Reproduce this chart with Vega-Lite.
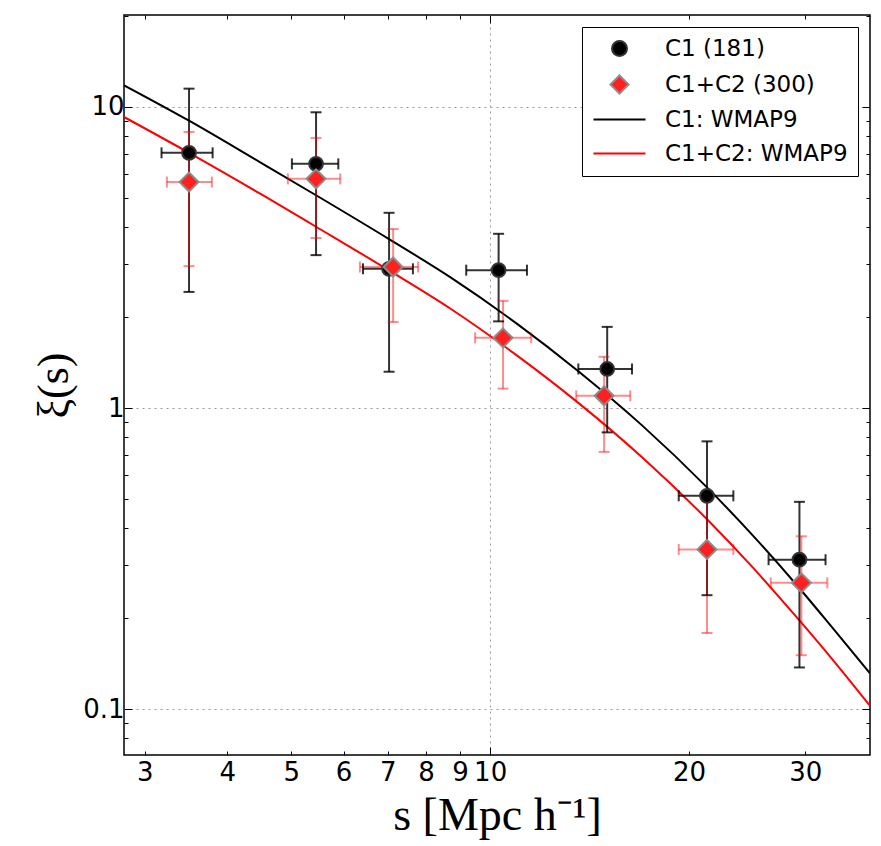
{
  "$schema": "https://vega.github.io/schema/vega-lite/v6.json",
  "width": 746,
  "height": 740,
  "autosize": "none",
  "padding": {"left": 124, "top": 15, "right": 11, "bottom": 91},
  "background": "white",
  "config": {
    "view": {"stroke": "#000", "strokeWidth": 1.5},
    "axis": {
      "domain": false,
      "grid": false,
      "gridColor": "#999",
      "gridDash": [2, 4],
      "gridWidth": 1,
      "tickColor": "#000",
      "tickWidth": 1,
      "labelFont": "DejaVu Sans",
      "labelFontSize": 26,
      "labelColor": "#000",
      "titleColor": "#000"
    }
  },
  "datasets": {
    "pts": [
      {"series": "C1 (181)", "s": 3.50, "xi": 7.04, "slo": 3.18, "shi": 3.80, "xlo": 2.43, "xhi": 11.5},
      {"series": "C1 (181)", "s": 5.45, "xi": 6.47, "slo": 5.01, "shi": 5.89, "xlo": 3.22, "xhi": 9.6},
      {"series": "C1 (181)", "s": 7.03, "xi": 2.90, "slo": 6.42, "shi": 7.64, "xlo": 1.32, "xhi": 4.45},
      {"series": "C1 (181)", "s": 10.3, "xi": 2.87, "slo": 9.20, "shi": 11.37, "xlo": 1.94, "xhi": 3.79},
      {"series": "C1 (181)", "s": 15.04, "xi": 1.348, "slo": 13.6, "shi": 16.4, "xlo": 0.83, "xhi": 1.86},
      {"series": "C1 (181)", "s": 21.3, "xi": 0.511, "slo": 19.3, "shi": 23.35, "xlo": 0.239, "xhi": 0.775},
      {"series": "C1 (181)", "s": 29.4, "xi": 0.3135, "slo": 26.4, "shi": 32.2, "xlo": 0.1375, "xhi": 0.488},
      {"series": "C1+C2 (300)", "s": 3.50, "xi": 5.63, "slo": 3.24, "shi": 3.79, "xlo": 2.96, "xhi": 8.26},
      {"series": "C1+C2 (300)", "s": 5.45, "xi": 5.77, "slo": 4.94, "shi": 5.93, "xlo": 3.67, "xhi": 7.89},
      {"series": "C1+C2 (300)", "s": 7.13, "xi": 2.94, "slo": 6.35, "shi": 7.78, "xlo": 1.93, "xhi": 3.93},
      {"series": "C1+C2 (300)", "s": 10.46, "xi": 1.71, "slo": 9.49, "shi": 11.54, "xlo": 1.16, "xhi": 2.27},
      {"series": "C1+C2 (300)", "s": 14.88, "xi": 1.098, "slo": 13.5, "shi": 16.3, "xlo": 0.715, "xhi": 1.48},
      {"series": "C1+C2 (300)", "s": 21.3, "xi": 0.339, "slo": 19.3, "shi": 23.35, "xlo": 0.179, "xhi": 0.50},
      {"series": "C1+C2 (300)", "s": 29.6, "xi": 0.2626, "slo": 26.6, "shi": 32.4, "xlo": 0.151, "xhi": 0.375}
    ],
    "curves": [
      {"series": "C1: WMAP9", "s": 2.79, "xi": 11.8},
      {"series": "C1: WMAP9", "s": 3.5, "xi": 9.0},
      {"series": "C1: WMAP9", "s": 4.5, "xi": 6.52},
      {"series": "C1: WMAP9", "s": 5.45, "xi": 5.09},
      {"series": "C1: WMAP9", "s": 7.0, "xi": 3.66},
      {"series": "C1: WMAP9", "s": 8.7, "xi": 2.72},
      {"series": "C1: WMAP9", "s": 11.0, "xi": 1.90},
      {"series": "C1: WMAP9", "s": 13.6, "xi": 1.325},
      {"series": "C1: WMAP9", "s": 17.0, "xi": 0.874},
      {"series": "C1: WMAP9", "s": 21.3, "xi": 0.545},
      {"series": "C1: WMAP9", "s": 25.0, "xi": 0.377},
      {"series": "C1: WMAP9", "s": 29.4, "xi": 0.252},
      {"series": "C1: WMAP9", "s": 33.0, "xi": 0.186},
      {"series": "C1: WMAP9", "s": 37.6, "xi": 0.1315},
      {"series": "C1+C2: WMAP9", "s": 2.79, "xi": 9.26},
      {"series": "C1+C2: WMAP9", "s": 3.5, "xi": 7.04},
      {"series": "C1+C2: WMAP9", "s": 4.5, "xi": 5.13},
      {"series": "C1+C2: WMAP9", "s": 5.45, "xi": 4.0},
      {"series": "C1+C2: WMAP9", "s": 7.0, "xi": 2.88},
      {"series": "C1+C2: WMAP9", "s": 8.7, "xi": 2.14},
      {"series": "C1+C2: WMAP9", "s": 11.0, "xi": 1.49},
      {"series": "C1+C2: WMAP9", "s": 13.6, "xi": 1.04},
      {"series": "C1+C2: WMAP9", "s": 17.0, "xi": 0.685},
      {"series": "C1+C2: WMAP9", "s": 21.3, "xi": 0.427},
      {"series": "C1+C2: WMAP9", "s": 25.0, "xi": 0.295},
      {"series": "C1+C2: WMAP9", "s": 29.4, "xi": 0.197},
      {"series": "C1+C2: WMAP9", "s": 33.0, "xi": 0.146},
      {"series": "C1+C2: WMAP9", "s": 37.6, "xi": 0.1025}
    ]
  },
  "resolve": {"axis": {"x": "independent", "y": "independent"}},
  "layer": [
    {
      "data": {"name": "curves"},
      "mark": {"type": "line", "strokeWidth": 2, "clip": true, "interpolate": "monotone"},
      "encoding": {
        "x": {"field": "s", "type": "quantitative", "scale": {"type": "log", "domain": [2.79, 37.6], "nice": false}, "axis": null},
        "y": {"field": "xi", "type": "quantitative", "scale": {"type": "log", "domain": [0.0704, 20.2], "nice": false},
              "axis": {"orient": "right", "values": [0.1, 1, 10], "tickSize": -8, "labels": false, "title": null}},
        "color": {"field": "series", "type": "nominal",
                  "scale": {"domain": ["C1: WMAP9", "C1+C2: WMAP9", "C1 (181)", "C1+C2 (300)"], "range": ["#000000", "#ff0000", "#000000", "#ff0000"]},
                  "legend": null},
        "detail": {"field": "series"}
      }
    },
    {
      "data": {"name": "pts"},
      "mark": {"type": "rule", "strokeWidth": 2},
      "encoding": {
        "x": {"field": "s", "type": "quantitative",
              "axis": {"orient": "bottom", "values": [3, 4, 5, 6, 7, 8, 9, 10, 20, 30], "format": "~g", "tickSize": -4, "labelPadding": 8,
                       "title": "s [Mpc h⁻¹]", "titleFont": "Liberation Serif", "titleFontSize": 46, "titleFontWeight": "normal", "titlePadding": 8}},
        "y": {"field": "xlo", "type": "quantitative", "axis": null},
        "y2": {"field": "xhi"},
        "color": {"field": "series", "type": "nominal", "legend": null},
        "opacity": {"field": "series", "type": "nominal", "scale": {"domain": ["C1 (181)", "C1+C2 (300)"], "range": [0.8, 0.45]}, "legend": null}
      }
    },
    {
      "data": {"name": "pts"},
      "mark": {"type": "rule", "strokeWidth": 2},
      "encoding": {
        "x": {"field": "slo", "type": "quantitative",
              "axis": {"orient": "bottom", "values": [10], "tickSize": -8, "labels": false, "title": null, "grid": true}},
        "x2": {"field": "shi"},
        "y": {"field": "xi", "type": "quantitative", "axis": null},
        "color": {"field": "series", "type": "nominal", "legend": null},
        "opacity": {"field": "series", "type": "nominal", "legend": null}
      }
    },
    {
      "data": {"name": "pts"},
      "mark": {"type": "tick", "orient": "horizontal", "size": 11, "thickness": 2},
      "encoding": {
        "x": {"field": "s", "type": "quantitative",
              "axis": {"orient": "top", "values": [3, 4, 5, 6, 7, 8, 9, 20, 30], "tickSize": -4, "labels": false, "title": null}},
        "y": {"field": "xhi", "type": "quantitative", "axis": null},
        "color": {"field": "series", "type": "nominal", "legend": null},
        "opacity": {"field": "series", "type": "nominal", "legend": null}
      }
    },
    {
      "data": {"name": "pts"},
      "mark": {"type": "tick", "orient": "horizontal", "size": 11, "thickness": 2},
      "encoding": {
        "x": {"field": "s", "type": "quantitative",
              "axis": {"orient": "top", "values": [10], "tickSize": -8, "labels": false, "title": null}},
        "y": {"field": "xlo", "type": "quantitative", "axis": null},
        "color": {"field": "series", "type": "nominal", "legend": null},
        "opacity": {"field": "series", "type": "nominal", "legend": null}
      }
    },
    {
      "data": {"name": "pts"},
      "mark": {"type": "tick", "orient": "vertical", "size": 11, "thickness": 2},
      "encoding": {
        "x": {"field": "slo", "type": "quantitative", "axis": null},
        "y": {"field": "xi", "type": "quantitative",
              "axis": {"orient": "left", "values": [0.1, 1, 10], "format": "~g", "tickSize": -8, "labelPadding": 8, "grid": true,
                       "title": "ξ(s)", "titleFont": "Liberation Serif", "titleFontSize": 44, "titleFontWeight": "normal", "titlePadding": 6}},
        "color": {"field": "series", "type": "nominal", "legend": null},
        "opacity": {"field": "series", "type": "nominal", "legend": null}
      }
    },
    {
      "data": {"name": "pts"},
      "mark": {"type": "tick", "orient": "vertical", "size": 11, "thickness": 2},
      "encoding": {
        "x": {"field": "shi", "type": "quantitative", "axis": null},
        "y": {"field": "xi", "type": "quantitative",
              "axis": {"orient": "left", "values": [0.08, 0.09, 0.2, 0.3, 0.4, 0.5, 0.6, 0.7, 0.8, 0.9, 2, 3, 4, 5, 6, 7, 8, 9, 20], "tickSize": -4, "labels": false, "title": null}},
        "color": {"field": "series", "type": "nominal", "legend": null},
        "opacity": {"field": "series", "type": "nominal", "legend": null}
      }
    },
    {
      "data": {"name": "pts"},
      "mark": {"type": "point", "filled": true, "strokeWidth": 2, "opacity": 1},
      "encoding": {
        "x": {"field": "s", "type": "quantitative", "axis": null},
        "y": {"field": "xi", "type": "quantitative",
              "axis": {"orient": "right", "values": [0.08, 0.09, 0.2, 0.3, 0.4, 0.5, 0.6, 0.7, 0.8, 0.9, 2, 3, 4, 5, 6, 7, 8, 9, 20], "tickSize": -4, "labels": false, "title": null}},
        "fill": {"field": "series", "type": "nominal",
                 "scale": {"domain": ["C1 (181)", "C1+C2 (300)", "C1: WMAP9", "C1+C2: WMAP9"], "range": ["#000000", "#ff2020", "transparent", "transparent"]},
                 "legend": {
                   "title": null, "orient": "top-right", "offset": 12,
                   "fillColor": "white", "strokeColor": "#000", "padding": 10,
                   "labelFont": "DejaVu Sans", "labelFontSize": 23, "labelColor": "#000", "labelLimit": 400,
                   "symbolSize": 225, "symbolOffset": 16, "labelOffset": 34, "rowPadding": 10, "symbolStrokeWidth": 2
                 }},
        "stroke": {"field": "series", "type": "nominal",
                   "scale": {"domain": ["C1 (181)", "C1+C2 (300)", "C1: WMAP9", "C1+C2: WMAP9"], "range": ["#333333", "#8c8c8c", "#000000", "#ff0000"]},
                   "legend": {"title": null}},
        "shape": {"field": "series", "type": "nominal",
                  "scale": {"domain": ["C1 (181)", "C1+C2 (300)", "C1: WMAP9", "C1+C2: WMAP9"],
                            "range": ["M1,0A1,1,0,1,1,-1,0A1,1,0,1,1,1,0Z", "M0,-1.2L1.2,0L0,1.2L-1.2,0Z", "M-3.47,0L3.47,0", "M-3.47,0L3.47,0"]},
                  "legend": {"title": null}},
        "size": {"field": "series", "type": "nominal", "scale": {"domain": ["C1 (181)", "C1+C2 (300)"], "range": [190, 250]}, "legend": null}
      }
    }
  ]
}
